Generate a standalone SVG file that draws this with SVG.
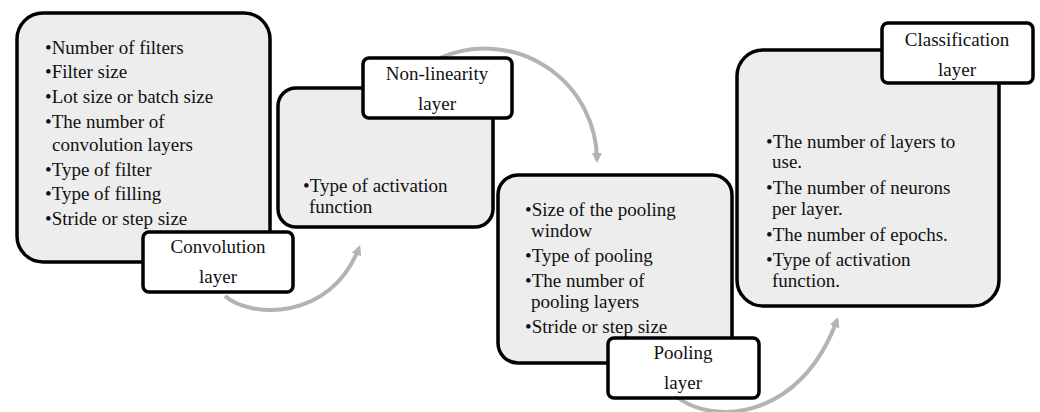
<svg xmlns="http://www.w3.org/2000/svg" width="1040" height="412" viewBox="0 0 1040 412">
<defs>
<style>
.box{fill:#ededed;stroke:#000;stroke-width:3.5}
.lbl{fill:#fff;stroke:#000;stroke-width:3.5}
text{font-family:"Liberation Serif","Times New Roman",serif;font-size:19px;fill:#111}
.c{text-anchor:middle}
.arc{fill:none;stroke:#b3b3b3;stroke-width:4}
</style>
<marker id="ah" markerWidth="10" markerHeight="10" refX="7" refY="5" orient="auto" markerUnits="userSpaceOnUse">
<path d="M0,0 L10,5 L0,10 z" fill="#b3b3b3"/>
</marker>
</defs>
<rect width="1040" height="412" fill="#fff"/>
<g id="connectors">
<path class="arc" d="M225,296 C250,318 330,322 359,248" marker-end="url(#ah)"/>
<path class="arc" d="M440,58 A112,112 0 0 1 597,160" marker-end="url(#ah)"/>
<path class="arc" d="M676,396 C710,425 800,422 837,320" marker-end="url(#ah)"/>
</g>
<g id="convolution">
<rect class="box" x="17" y="13" width="253" height="249" rx="26"/>
<text x="45" y="54">•Number of filters</text>
<text x="45" y="78">•Filter size</text>
<text x="45" y="103">•Lot size or batch size</text>
<text x="45" y="128">•The number of</text>
<text x="52" y="151">convolution layers</text>
<text x="45" y="176">•Type of filter</text>
<text x="45" y="200">•Type of filling</text>
<text x="45" y="225">•Stride or step size</text>
<rect class="lbl" x="143" y="232" width="150" height="60" rx="6"/>
<text class="c" x="218" y="253">Convolution</text>
<text class="c" x="218" y="283">layer</text>
</g>
<g id="nonlinearity">
<rect class="box" x="278" y="88" width="215" height="139" rx="18"/>
<text x="303" y="192">•Type of activation</text>
<text x="309" y="213">function</text>
<rect class="lbl" x="363" y="58" width="149" height="60" rx="6"/>
<text class="c" x="437" y="80">Non-linearity</text>
<text class="c" x="437" y="110">layer</text>
</g>
<g id="pooling">
<rect class="box" x="498" y="175" width="234" height="188" rx="20"/>
<text x="525" y="216">•Size of the pooling</text>
<text x="531" y="237">window</text>
<text x="525" y="262">•Type of pooling</text>
<text x="525" y="287">•The number of</text>
<text x="531" y="308">pooling layers</text>
<text x="525" y="333">•Stride or step size</text>
<rect class="lbl" x="608" y="338" width="151" height="60" rx="6"/>
<text class="c" x="683" y="359">Pooling</text>
<text class="c" x="683" y="389">layer</text>
</g>
<g id="classification">
<rect class="box" x="737" y="50" width="262" height="256" rx="26"/>
<text x="766" y="148">•The number of layers to</text>
<text x="772" y="168">use.</text>
<text x="766" y="194">•The number of neurons</text>
<text x="772" y="215">per layer.</text>
<text x="766" y="241">•The number of epochs.</text>
<text x="766" y="266">•Type of activation</text>
<text x="772" y="287">function.</text>
<rect class="lbl" x="882" y="23" width="151" height="60" rx="6"/>
<text class="c" x="957" y="46">Classification</text>
<text class="c" x="957" y="76">layer</text>
</g>
</svg>
